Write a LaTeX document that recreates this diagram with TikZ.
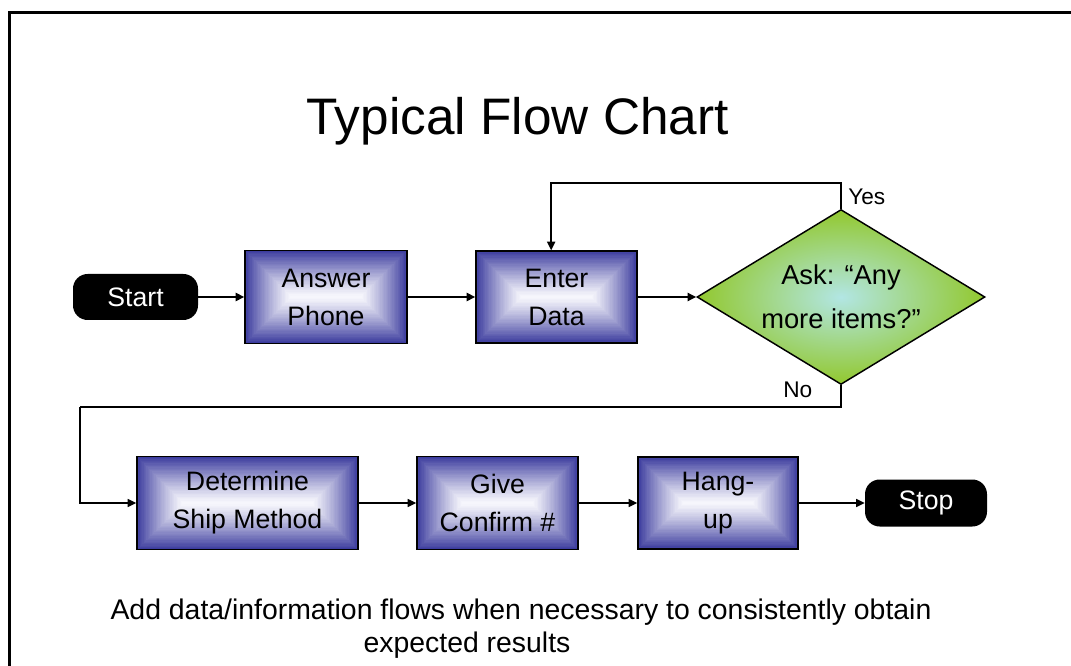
\documentclass[tikz,border=0pt]{standalone}
\usepackage{fontspec}
\setmainfont{Liberation Sans}
\usetikzlibrary{shapes.geometric,arrows.meta,calc}
\definecolor{boxedge}{RGB}{60,60,158}
\definecolor{boxmid}{RGB}{246,246,252}
\definecolor{dgreen}{RGB}{146,200,46}
\definecolor{dcyan}{RGB}{178,230,228}
\tikzset{
  procbox/.style={draw=black, line width=1pt, inner sep=0pt, align=center,
    font=\fontsize{20}{28.5}\selectfont,
    path picture={
      \foreach \i in {0,...,34}{
        \pgfmathtruncatemacro\p{100*(1-\i/34)^1.2}
        \fill[boxedge!\p!boxmid]
          ($(path picture bounding box.south west)+(\i*1pt,\i*1pt)$) rectangle
          ($(path picture bounding box.north east)-(\i*1pt,\i*1pt)$);
      }
    }},
  decision/.style={diamond, draw=black, line width=1.1pt, inner sep=0pt, align=center,
    inner color=dcyan, outer color=dgreen, aspect=1.646,
    minimum width=216pt, minimum height=131.25pt,
    font=\fontsize{20.5}{33}\selectfont},
  term/.style={fill=black, text=white, rounded corners=11pt, inner sep=0pt,
    font=\fontsize{20}{24}\selectfont},
  lbl/.style={inner sep=0pt, font=\fontsize{17}{20}\selectfont},
  conn/.style={line width=#1, -{Triangle[length=6.5pt,width=6pt]}},
  conn/.default=1.1pt,
  loopline/.style={line width=#1},
  loopline/.default=1.1pt,
}
\begin{document}
\begin{tikzpicture}[x=0.75pt,y=-0.75pt]
\clip (0,0) rectangle (1071,666);
\draw[line width=2.4pt] (9.5,12.5) rectangle (1100,700);

\node[inner sep=0pt, anchor=base, font=\fontsize{38.5}{44}\selectfont] (title) at (517.5,135) {Typical Flow Chart};

\node[term, minimum width=93.75pt, minimum height=34.5pt] (start) at (135.5,297) {Start};
\node[procbox, minimum width=121.5pt, minimum height=69.75pt] (answer) at (326,297) {Answer\\Phone};
\node[procbox, minimum width=120.75pt, minimum height=69pt] (enter) at (556.5,297) {Enter\\Data};
\node[decision] (ask) at (841,297) {Ask: “Any\\more items?”};

\node[procbox, minimum width=165.75pt, minimum height=69.75pt] (ship) at (247.5,503) {Determine\\Ship Method};
\node[procbox, minimum width=120.75pt, minimum height=69.75pt] (confirm) at (497.5,503) {Give\\Confirm \#};
\node[procbox, minimum width=120pt, minimum height=69pt] (hang) at (718,503) {Hang-\\up};
\node[term, minimum width=91.5pt, minimum height=35.25pt] (stop) at (926,503) {Stop};

\node[lbl, anchor=base west] (yes) at (848,205) {Yes};
\node[lbl, anchor=base west] (no) at (783,398) {No};

\draw[conn=2.2pt] (start) -- (answer);
\draw[conn=2.2pt] (answer) -- (enter);
\draw[conn=2.2pt] (enter) -- (ask);
\draw[conn=1.5pt] (ask.north) -- ++(0,-26) -| ([xshift=-4]enter.north);
\coordinate (nocorner) at (80,407);
\draw[loopline] (ask.south) |- (nocorner);
\draw[conn] (nocorner) |- (ship.west);
\draw[conn] (ship) -- (confirm);
\draw[conn] (confirm) -- (hang);
\draw[conn] (hang) -- (stop);

\node[inner sep=0pt, anchor=base, font=\fontsize{21.3}{24}\selectfont] (note1) at (521,619) {Add data/information flows when necessary to consistently obtain};
\node[inner sep=0pt, anchor=base, font=\fontsize{21.3}{24}\selectfont] (note2) at (467,652) {expected results};
\end{tikzpicture}
\end{document}
